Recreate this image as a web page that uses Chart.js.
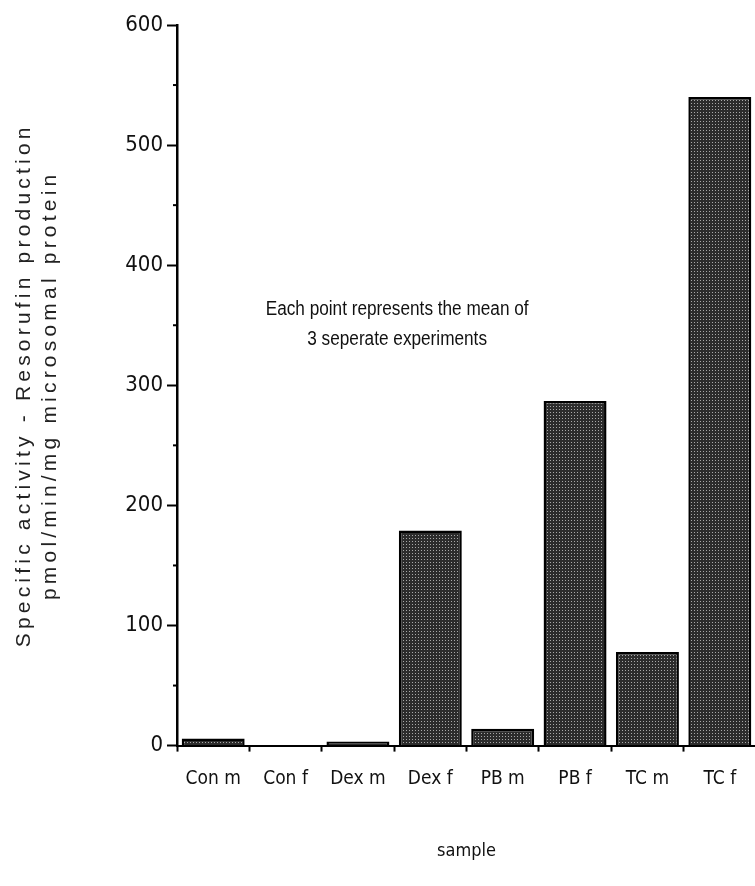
<!DOCTYPE html>
<html>
<head>
<meta charset="utf-8">
<script src="https://cdn.jsdelivr.net/npm/chart.js@4.4.1/dist/chart.umd.min.js"></script>
<style>
  html, body { margin: 0; padding: 0; background: #fff; overflow: hidden; }
  #wrap { position: relative; width: 760px; height: 886px; }
</style>
</head>
<body>
<div id="wrap"><canvas id="c"></canvas></div>
<script>
const categories = ["Con m", "Con f", "Dex m", "Dex f", "PB m", "PB f", "TC m", "TC f"];
const activity = [6, 0, 3.5, 179, 14, 287, 78, 540];
const yTicks = [0, 100, 200, 300, 400, 500, 600];
const yTitle = ["Specific activity - Resorufin production", "pmol/min/mg microsomal protein"];
const xTitle = "sample";
const note = ["Each point represents the mean of", "3 seperate experiments"];

const narrow = "'DejaVu Sans Condensed', 'Liberation Sans Narrow', 'Liberation Sans', sans-serif";
const plain = "'Liberation Sans', Arial, sans-serif";

function makePattern() {
  const p = document.createElement('canvas');
  p.width = 3; p.height = 3;
  const g = p.getContext('2d');
  g.fillStyle = '#2c2c2c';
  g.fillRect(0, 0, 3, 3);
  g.fillStyle = '#a8a8a8';
  g.fillRect(1, 1, 1, 1);
  return g.createPattern(p, 'repeat');
}
const ctx0 = document.getElementById('c').getContext('2d');
const pattern = makePattern();

const extras = {
  id: 'extras',
  beforeDraw(chart) {
    const y = chart.scales.y;
    if (!y._lsPatched) {
      const orig = y.drawTitle.bind(y);
      y.drawTitle = function () {
        const c = this.ctx;
        const prev = c.letterSpacing;
        c.letterSpacing = '4.2px';
        orig();
        c.letterSpacing = prev || '0px';
      };
      y._lsPatched = true;
    }
  },
  afterDraw(chart) {
    const c = chart.ctx;
    const y = chart.scales.y;
    const x = chart.scales.x;
    // minor ticks at 50s
    c.save();
    c.strokeStyle = '#000';
    c.lineWidth = 2;
    for (let i = 0; i < yTicks.length - 1; i++) {
      const v = (yTicks[i] + yTicks[i + 1]) / 2;
      const py = y.getPixelForValue(v);
      c.beginPath();
      c.moveTo(x.left - 4, py);
      c.lineTo(x.left, py);
      c.stroke();
    }
    // annotation text
    c.fillStyle = '#111';
    c.font = "20px " + plain;
    c.textAlign = 'center';
    c.textBaseline = 'middle';
    const cx = (x.getPixelForValue(2) + x.getPixelForValue(3)) / 2 + 3;
    [[note[0], 363.5], [note[1], 338.5]].forEach(([t, v]) => {
      c.save();
      c.translate(cx, y.getPixelForValue(v));
      c.scale(0.86, 1);
      c.fillText(t, 0, 0);
      c.restore();
    });
    c.restore();
  }
};

new Chart(ctx0, {
  type: 'bar',
  data: {
    labels: categories,
    datasets: [{
      data: activity,
      backgroundColor: pattern,
      borderColor: '#000',
      borderWidth: 2.5,
      borderSkipped: 'bottom',
      barPercentage: 0.87,
      categoryPercentage: 1.0
    }]
  },
  options: {
    responsive: true,
    maintainAspectRatio: false,
    animation: false,
    devicePixelRatio: 1,
    layout: { padding: { top: 25, right: 4, left: 0, bottom: 24 } },
    plugins: { legend: { display: false }, tooltip: { enabled: false } },
    scales: {
      x: {
        offset: true,
        grid: {
          display: true,
          offset: true,
          drawOnChartArea: false,
          drawTicks: true,
          tickLength: 6,
          tickColor: '#000',
          tickWidth: 2
        },
        border: { display: true, color: '#000', width: 2 },
        ticks: {
          color: '#111',
          font: { family: narrow, size: 19 },
          padding: 16,
          maxRotation: 0,
          autoSkip: false
        },
        title: {
          display: true,
          text: xTitle,
          color: '#111',
          font: { family: narrow, size: 18 },
          padding: { top: 34, bottom: 0 }
        }
      },
      y: {
        min: 0,
        max: 600,
        afterFit(scale) { scale.width = 177; },
        afterBuildTicks(scale) { scale.ticks = yTicks.map(v => ({ value: v })); },
        grid: {
          display: true,
          drawOnChartArea: false,
          drawTicks: true,
          tickLength: 10,
          tickColor: '#000',
          tickWidth: 2
        },
        border: { display: true, color: '#000', width: 2.5 },
        ticks: {
          color: '#111',
          font: { family: narrow, size: 22 },
          padding: 4
        },
        title: {
          display: true,
          text: yTitle,
          color: '#222',
          font: { family: plain, size: 21 },
          lineHeight: 1.2,
          padding: { top: 12, bottom: 10 }
        }
      }
    }
  },
  plugins: [extras]
});
</script>
</body>
</html>
